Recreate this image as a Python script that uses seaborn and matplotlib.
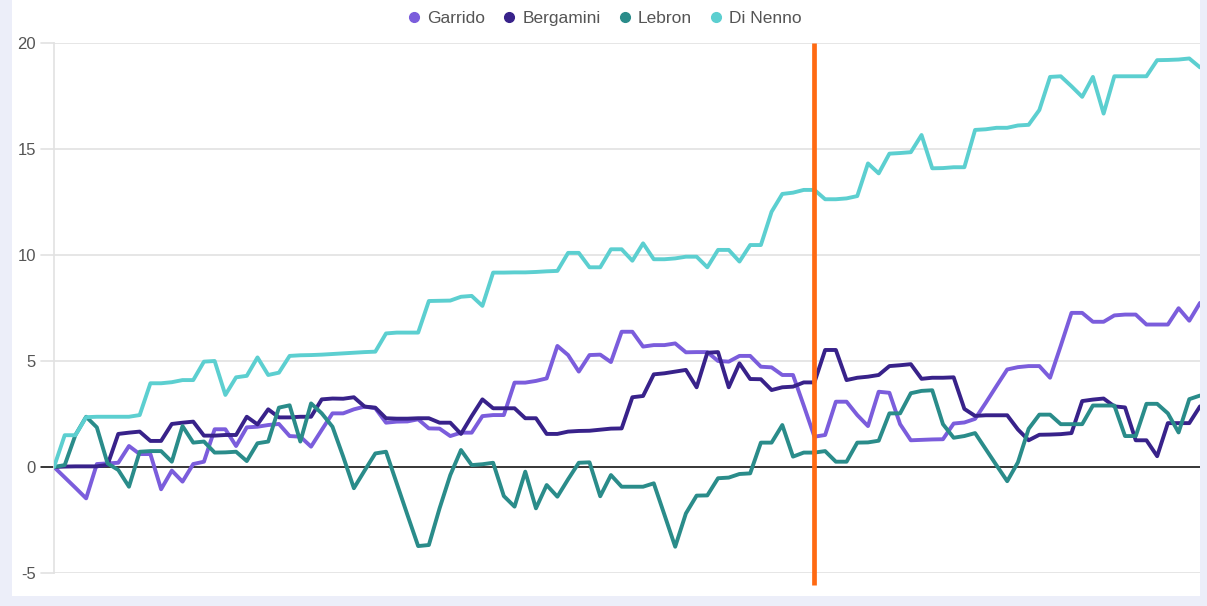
import numpy as np
import pandas as pd
import matplotlib
matplotlib.use("Agg")
import matplotlib.pyplot as plt
from matplotlib.lines import Line2D
from matplotlib.patches import Rectangle
import seaborn as sns

series_names = ["Garrido", "Bergamini", "Lebron", "Di Nenno"]
colors = ["#7b5ddc", "#38228a", "#2a8c8a", "#5ccfd0"]

garrido = [0, -0.49, -0.98, -1.48, 0.14, 0.17, 0.2, 0.99, 0.61, 0.61,
           -1.05, -0.17, -0.69, 0.14, 0.25, 1.78, 1.78, 0.99, 1.87, 1.9,
           1.98, 2.03, 1.46, 1.43, 0.96, 1.75, 2.53, 2.53, 2.72, 2.85,
           2.77, 2.09, 2.14, 2.15, 2.25, 1.82, 1.81, 1.46, 1.62, 1.62,
           2.4, 2.45, 2.45, 3.98, 3.98, 4.06, 4.18, 5.71, 5.28, 4.5,
           5.28, 5.3, 4.95, 6.38, 6.38, 5.68, 5.75, 5.75, 5.83, 5.41,
           5.42, 5.42, 5.0, 4.97, 5.24, 5.24, 4.73, 4.7, 4.34, 4.34,
           2.9, 1.43, 1.51, 3.08, 3.08, 2.45, 1.93, 3.55, 3.5, 2.02,
           1.26, 1.28, 1.3, 1.31, 2.05, 2.1, 2.27, 3.03, 3.82, 4.6,
           4.71, 4.76, 4.76, 4.21, 5.72, 7.27, 7.27, 6.85, 6.85, 7.15,
           7.19, 7.19, 6.72, 6.72, 6.72, 7.49, 6.9, 7.74]

bergamini = [0, 0.02, 0.03, 0.03, 0.03, 0.1, 1.56, 1.62, 1.67, 1.23,
             1.23, 2.03, 2.09, 2.14, 1.48, 1.48, 1.51, 1.51, 2.37, 2.01,
             2.72, 2.34, 2.34, 2.37, 2.37, 3.19, 3.23, 3.22, 3.29, 2.85,
             2.8, 2.3, 2.28, 2.28, 2.3, 2.3, 2.09, 2.09, 1.56, 2.4,
             3.19, 2.77, 2.77, 2.77, 2.3, 2.3, 1.56, 1.56, 1.67, 1.7,
             1.71, 1.76, 1.81, 1.82, 3.29, 3.35, 4.37, 4.42, 4.5, 4.58,
             3.76, 5.39, 5.42, 3.76, 4.89, 4.15, 4.14, 3.63, 3.76, 3.79,
             3.99, 3.99, 5.52, 5.52, 4.1, 4.21, 4.26, 4.34, 4.76, 4.8,
             4.85, 4.16, 4.21, 4.21, 4.23, 2.74, 2.41, 2.44, 2.44, 2.44,
             1.77, 1.26, 1.52, 1.53, 1.55, 1.6, 3.11, 3.18, 3.23, 2.86,
             2.81, 1.26, 1.26, 0.51, 2.07, 2.07, 2.07, 2.86]

lebron = [0, 0.09, 1.51, 2.37, 1.87, 0.17, -0.14, -0.93, 0.72, 0.75,
          0.75, 0.25, 1.93, 1.15, 1.2, 0.68, 0.69, 0.72, 0.28, 1.12,
          1.2, 2.8, 2.91, 1.2, 3.0, 2.53, 1.9, 0.49, -1.0, -0.17,
          0.64, 0.72, -0.77, -2.26, -3.73, -3.68, -1.95, -0.38, 0.8, 0.09,
          0.13, 0.2, -1.37, -1.87, -0.22, -1.95, -0.85, -1.4, -0.58, 0.2,
          0.22, -1.38, -0.38, -0.93, -0.93, -0.93, -0.77, -2.26, -3.76, -2.19,
          -1.35, -1.34, -0.53, -0.5, -0.33, -0.3, 1.15, 1.15, 1.98, 0.49,
          0.68, 0.68, 0.75, 0.25, 0.25, 1.15, 1.16, 1.24, 2.53, 2.53,
          3.48, 3.59, 3.62, 2.02, 1.38, 1.46, 1.6, 0.84, 0.08, -0.67,
          0.22, 1.8, 2.47, 2.47, 2.02, 2.02, 2.02, 2.9, 2.9, 2.9,
          1.46, 1.46, 2.98, 2.98, 2.53, 1.63, 3.2, 3.37]

di_nenno = [0, 1.5, 1.5, 2.35, 2.37, 2.37, 2.37, 2.37, 2.45, 3.95,
            3.95, 4.0, 4.1, 4.1, 4.97, 5.0, 3.4, 4.23, 4.3, 5.17,
            4.34, 4.45, 5.24, 5.27, 5.28, 5.3, 5.33, 5.36, 5.39, 5.42,
            5.44, 6.3, 6.34, 6.34, 6.34, 7.83, 7.84, 7.85, 8.03, 8.07,
            7.6, 9.17, 9.17, 9.18, 9.18, 9.2, 9.23, 9.25, 10.1, 10.1,
            9.42, 9.42, 10.27, 10.27, 9.73, 10.55, 9.8, 9.8, 9.84, 9.92,
            9.92, 9.42, 10.24, 10.24, 9.69, 10.47, 10.47, 12.04, 12.88, 12.94,
            13.07, 13.07, 12.63, 12.63, 12.67, 12.78, 14.32, 13.85, 14.78, 14.81,
            14.85, 15.66, 14.09, 14.1, 14.14, 14.14, 15.9, 15.93, 16.0, 16.0,
            16.11, 16.14, 16.84, 18.4, 18.43, 17.96, 17.46, 18.4, 16.67, 18.43,
            18.43, 18.43, 18.43, 19.19, 19.2, 19.22, 19.27, 18.85]

y_ticks = [-5, 0, 5, 10, 15, 20]
event_index = 71

values = [garrido, bergamini, lebron, di_nenno]
frames = []
for name, vals in zip(series_names, values):
    frames.append(pd.DataFrame({"step": np.arange(len(vals)), "value": vals, "player": name}))
df = pd.concat(frames, ignore_index=True)

sns.set_theme(style="white")
plt.rcParams["font.family"] = ["Liberation Sans", "DejaVu Sans"]

W, H = 1207, 606
fig = plt.figure(figsize=(W / 100, H / 100), dpi=100)
fig.patch.set_facecolor("#eceef9")
panel = Rectangle((12 / W, 1 - 596 / H), (1200 - 12) / W, 596 / H,
                  transform=fig.transFigure, facecolor="white",
                  edgecolor="none", zorder=-10)
fig.add_artist(panel)

ax = fig.add_axes([54 / W, 1 - 573 / H, (1200 - 54) / W, (573 - 43) / H])
ax.set_facecolor("none")
ax.set_zorder(1)

sns.lineplot(data=df, x="step", y="value", hue="player", palette=colors,
             hue_order=series_names, linewidth=2.8, ax=ax, legend=False,
             zorder=3)

n = len(garrido)
ax.set_xlim(0, n - 1)
ax.set_ylim(-5, 20)
ax.set_yticks(y_ticks)
ax.set_yticklabels([str(t) for t in y_ticks], color="#555555", fontsize=12)
ax.set_xticks([])
ax.set_xlabel("")
ax.set_ylabel("")
ext = (n - 1) * 13 / (1200 - 54)
for t in y_ticks:
    if t == 0:
        ax.axhline(t, color="black", linewidth=1.1, zorder=2)
        ax.plot([-ext, 0], [t, t], color="black", linewidth=1.1,
                clip_on=False, zorder=2)
    else:
        ax.axhline(t, color="#e2e2e2", linewidth=1.2, zorder=1)
        ax.plot([-ext, 0], [t, t], color="#e2e2e2", linewidth=1.2,
                clip_on=False, zorder=1)
for s in ["top", "right", "bottom"]:
    ax.spines[s].set_visible(False)
ax.spines["left"].set_color("#e2e2e2")
ax.spines["left"].set_linewidth(1.2)
ax.tick_params(axis="y", length=0, pad=13)

ax.plot([event_index, event_index], [20, -5.55], color="#ff6a12", linewidth=3.4,
        clip_on=False, zorder=4, solid_capstyle="butt")

handles = [Line2D([0], [0], marker="o", linestyle="none", markersize=7,
                  markerfacecolor=c, markeredgecolor=c) for c in colors]
fig.legend(handles, series_names, loc="center", bbox_to_anchor=(0.5, 1 - 18 / H),
           ncol=4, frameon=False, fontsize=12.5, labelcolor="#555555",
           handletextpad=0.25, columnspacing=0.9, handlelength=1.0)

fig.savefig("out.png", dpi=100, facecolor=fig.get_facecolor())
